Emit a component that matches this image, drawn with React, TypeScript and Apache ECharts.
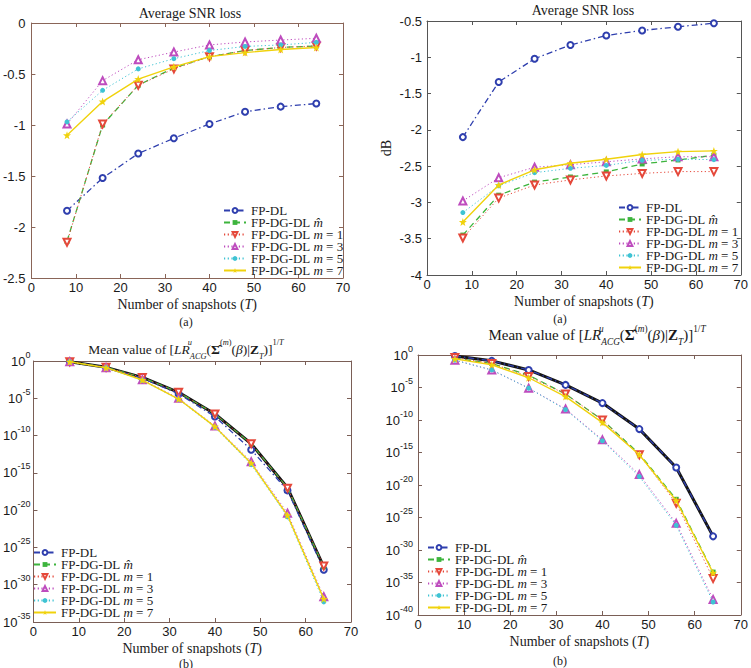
import React, { useEffect, useRef } from 'react';
import * as echarts from 'echarts';

// Number of snapshots T on every horizontal axis
const snapshots = [8, 16, 24, 32, 40, 48, 56, 64];

const seriesNames = [
  'FP-DL',
  'FP-DG-DL m̂',
  'FP-DG-DL m = 1',
  'FP-DG-DL m = 3',
  'FP-DG-DL m = 5',
  'FP-DG-DL m = 7',
];

// (a) left: average SNR loss
const snrLeftFpDl = [-1.84, -1.52, -1.28, -1.13, -0.99, -0.87, -0.82, -0.79];
const snrLeftHat = [-2.14, -1.0, -0.61, -0.44, -0.33, -0.27, -0.24, -0.225];
const snrLeftM1 = [-2.15, -0.99, -0.61, -0.45, -0.33, -0.27, -0.24, -0.225];
const snrLeftM3 = [-0.99, -0.565, -0.36, -0.285, -0.215, -0.186, -0.167, -0.15];
const snrLeftM5 = [-0.97, -0.66, -0.45, -0.35, -0.27, -0.23, -0.215, -0.19];
const snrLeftM7 = [-1.1, -0.77, -0.55, -0.43, -0.33, -0.29, -0.26, -0.24];

// (a) right: average SNR loss in dB
const snrRightFpDl = [-2.1, -1.34, -1.02, -0.83, -0.7, -0.63, -0.58, -0.53];
const snrRightHat = [-3.45, -2.9, -2.72, -2.65, -2.58, -2.47, -2.415, -2.35];
const snrRightM1 = [-3.49, -2.94, -2.76, -2.69, -2.635, -2.6, -2.575, -2.575];
const snrRightM3 = [-2.98, -2.66, -2.515, -2.48, -2.44, -2.4, -2.37, -2.37];
const snrRightM5 = [-3.14, -2.77, -2.59, -2.53, -2.49, -2.42, -2.405, -2.41];
const snrRightM7 = [-3.27, -2.76, -2.55, -2.46, -2.405, -2.34, -2.3, -2.29];

// (b) left: log10 of the mean likelihood-ratio value
const lrLeftFpDl = [-0.1, -0.85, -2.3, -4.4, -7.45, -11.9, -17.35, -28.0];
const lrLeftHat = [-0.1, -0.85, -2.2, -4.2, -7.1, -11.1, -17.0, -27.6];
const lrLeftM1 = [-0.1, -0.85, -2.2, -4.2, -7.1, -11.1, -17.05, -27.5];
const lrLeftM3 = [-0.1, -0.9, -2.5, -5.0, -8.7, -13.5, -20.4, -31.6];
const lrLeftM5 = [-0.1, -0.9, -2.6, -5.15, -8.9, -13.9, -20.9, -32.3];
const lrLeftM7 = [-0.1, -0.9, -2.55, -5.1, -8.8, -13.7, -20.7, -31.9];

// (b) right: log10 of the mean likelihood-ratio value
const lrRightFpDl = [-0.15, -0.9, -2.3, -4.6, -7.4, -11.4, -17.3, -27.9];
const lrRightHat = [-0.5, -1.3, -3.1, -6.0, -10.0, -15.2, -22.2, -33.4];
const lrRightM1 = [-0.4, -1.3, -3.3, -6.0, -10.0, -15.35, -22.8, -34.4];
const lrRightM3 = [-0.8, -2.3, -5.1, -8.3, -13.05, -18.4, -25.9, -37.6];
const lrRightM5 = [-0.8, -2.3, -5.1, -8.4, -13.2, -18.7, -26.2, -38.0];
const lrRightM7 = [-0.6, -1.5, -3.5, -6.4, -10.4, -15.35, -22.4, -33.5];

const SERIF = '"Liberation Serif", "Times New Roman", serif';
const SANS = '"Liberation Sans", Arial, sans-serif';
const INK = '#1a1a1a';

const STAR =
  'path://M0,-10 L2.35,-3.24 L9.51,-3.09 L3.8,1.24 L5.88,8.09 L0,4 L-5.88,8.09 L-3.8,1.24 L-9.51,-3.09 L-2.35,-3.24 Z';

const seriesLooks = [
  { color: '#2f3fae', type: [6, 3, 1.5, 3], width: 1.3, symbol: 'emptyCircle', size: 6, rotate: 0 },
  { color: '#3db43d', type: [6, 4], width: 1.3, symbol: 'rect', size: 5, rotate: 0 },
  { color: '#e5483a', type: [1.2, 2.5], width: 1, symbol: 'emptyTriangle', size: 7, rotate: 180 },
  { color: '#be4cbe', type: [1.2, 2.5], width: 1, symbol: 'emptyTriangle', size: 7, rotate: 0 },
  { color: '#3fc3d3', type: [1.2, 2.5], width: 1, symbol: 'circle', size: 5, rotate: 0 },
  { color: '#f0d20c', type: 'solid', width: 1.4, symbol: STAR, size: 8, rotate: 0 },
];

const grids = [
  { left: 31, top: 23, width: 312, height: 255 },
  { left: 427, top: 21, width: 317, height: 254 },
  { left: 21, top: 361, width: 330, height: 261 },
  { left: 418, top: 355, width: 328, height: 260 },
];

const yConfigs = [
  { min: -2.5, max: 0, interval: 0.5, log: false, margin: 6, name: '' },
  { min: -4, max: -0.5, interval: 0.5, log: false, margin: 5, name: 'dB' },
  { min: -35, max: 0, interval: 5, log: true, margin: 3, name: '' },
  { min: -40, max: 0, interval: 5, log: true, margin: 5, name: '' },
];

const frameColors = ['#8a6558', '#555555', '#7a5e56', '#7a5e56'];

const legendSpots = [
  { left: 223, top: 204 },
  { left: 618, top: 201 },
  { left: 33, top: 546 },
  { left: 427, top: 541 },
];

const panelData = [
  [snrLeftFpDl, snrLeftHat, snrLeftM1, snrLeftM3, snrLeftM5, snrLeftM7],
  [snrRightFpDl, snrRightHat, snrRightM1, snrRightM3, snrRightM5, snrRightM7],
  [lrLeftFpDl, lrLeftHat, lrLeftM1, lrLeftM3, lrLeftM5, lrLeftM7],
  [lrRightFpDl, lrRightHat, lrRightM1, lrRightM3, lrRightM5, lrRightM7],
];

// dark envelope drawn under the upper group of the log panels
const envelopeData: (number[] | null)[] = [null, null, lrLeftHat, lrRightFpDl];

const legendLabels: Record<string, string> = {
  'FP-DL': 'FP-DL',
  'FP-DG-DL m̂': 'FP-DG-DL {i|m̂}',
  'FP-DG-DL m = 1': 'FP-DG-DL {i|m} = 1',
  'FP-DG-DL m = 3': 'FP-DG-DL {i|m} = 3',
  'FP-DG-DL m = 5': 'FP-DG-DL {i|m} = 5',
  'FP-DG-DL m = 7': 'FP-DG-DL {i|m} = 7',
};

function pairs(values: number[]) {
  return snapshots.map((t, i) => [t, values[i]]);
}

function buildOption() {
  const xAxis: any[] = [];
  const yAxis: any[] = [];
  const series: any[] = [];

  grids.forEach((_, gi) => {
    const frame = frameColors[gi];
    const yc = yConfigs[gi];
    const tick = { show: true, inside: true, length: 4, lineStyle: { color: frame, width: 1 } };
    xAxis.push({
      type: 'value',
      gridIndex: gi,
      min: 0,
      max: 70,
      interval: 10,
      position: 'bottom',
      axisLine: { show: true, onZero: false, lineStyle: { color: frame, width: 1 } },
      axisTick: tick,
      splitLine: { show: false },
      axisLabel: { color: INK, fontFamily: SANS, fontSize: 13, margin: 3 },
      name: 'Number of snapshots ({i|T})',
      nameLocation: 'middle',
      nameGap: 19,
      nameTextStyle: {
        color: INK,
        fontFamily: SERIF,
        fontSize: 14,
        rich: { i: { fontStyle: 'italic', fontFamily: SERIF, fontSize: 14, color: INK } },
      },
    });
    xAxis.push({
      type: 'value',
      gridIndex: gi,
      min: 0,
      max: 70,
      interval: 10,
      position: 'top',
      axisLine: { show: true, onZero: false, lineStyle: { color: frame, width: 1 } },
      axisTick: tick,
      splitLine: { show: false },
      axisLabel: { show: false },
    });
    yAxis.push({
      type: 'value',
      gridIndex: gi,
      min: yc.min,
      max: yc.max,
      interval: yc.interval,
      position: 'left',
      axisLine: { show: true, onZero: false, lineStyle: { color: frame, width: 1 } },
      axisTick: tick,
      splitLine: { show: false },
      axisLabel: yc.log
        ? {
            margin: yc.margin,
            formatter: (v: number) => `{b|10}{s|${Math.round(v)}}`,
            rich: {
              b: { fontFamily: SANS, fontSize: 13, color: INK, lineHeight: 26 },
              s: { fontFamily: SANS, fontSize: 9, color: INK, lineHeight: 10, verticalAlign: 'top', padding: [2, 0, 0, 0] },
            },
          }
        : {
            margin: yc.margin,
            color: INK,
            fontFamily: SANS,
            fontSize: 13,
            formatter: (v: number) => String(Math.round(v * 10) / 10),
          },
      name: yc.name,
      nameLocation: 'middle',
      nameGap: 34,
      nameTextStyle: { color: INK, fontFamily: SERIF, fontSize: 14 },
    });
    yAxis.push({
      type: 'value',
      gridIndex: gi,
      min: yc.min,
      max: yc.max,
      interval: yc.interval,
      position: 'right',
      axisLine: { show: true, onZero: false, lineStyle: { color: frame, width: 1 } },
      axisTick: tick,
      splitLine: { show: false },
      axisLabel: { show: false },
    });

    const env = envelopeData[gi];
    if (env) {
      series.push({
        type: 'line',
        name: 'envelope',
        xAxisIndex: gi * 2,
        yAxisIndex: gi * 2,
        data: pairs(env),
        symbol: 'none',
        lineStyle: { color: '#151515', width: 3 },
        z: 1,
      });
    }

    panelData[gi].forEach((values, si) => {
      const look = seriesLooks[si];
      series.push({
        type: 'line',
        name: seriesNames[si],
        xAxisIndex: gi * 2,
        yAxisIndex: gi * 2,
        data: pairs(values),
        symbol: look.symbol,
        symbolSize: look.size,
        symbolRotate: look.rotate,
        color: look.color,
        itemStyle: { color: look.color, borderWidth: 1.1 },
        lineStyle: { color: look.color, width: look.width, type: look.type },
        z: 2 + si,
      });
    });
  });

  const legend = legendSpots.map((spot) => ({
    data: seriesNames,
    orient: 'vertical',
    left: spot.left,
    top: spot.top,
    itemWidth: 22,
    itemHeight: 6,
    itemGap: -1,
    padding: 0,
    selectedMode: false,
    formatter: (name: string) => legendLabels[name] ?? name,
    textStyle: {
      color: INK,
      fontFamily: SERIF,
      fontSize: 13,
      lineHeight: 11,
      rich: { i: { fontStyle: 'italic', fontFamily: SERIF, fontSize: 13, lineHeight: 11, color: INK } },
    },
  }));

  const titleRich = (size: number) => ({
    i: { fontStyle: 'italic', fontFamily: SERIF, fontSize: size, color: INK, lineHeight: 22 },
    b: { fontWeight: 'bold', fontFamily: SERIF, fontSize: size, color: INK, lineHeight: 22 },
    u: { fontStyle: 'italic', fontFamily: SERIF, fontSize: size * 0.62, color: INK, lineHeight: 8, verticalAlign: 'top', width: 0 },
    sub: { fontStyle: 'italic', fontFamily: SERIF, fontSize: size * 0.62, color: INK, lineHeight: 9, verticalAlign: 'bottom' },
    sup: { fontFamily: SERIF, fontSize: size * 0.62, color: INK, lineHeight: 9, verticalAlign: 'top' },
    supi: { fontStyle: 'italic', fontFamily: SERIF, fontSize: size * 0.62, color: INK, lineHeight: 9, verticalAlign: 'top' },
  });
  const lrTitle =
    'Mean value of [{i|LR}{u|u}{sub|ACG}({b|Σ̂}{sup|(}{supi|m}{sup|)}({i|β})|{b|Z}{sub|T})]{sup|1/}{supi|T}';

  const textEl = (x: number, y: number, text: string, size: number, rich?: any) => ({
    type: 'text',
    x,
    y,
    silent: true,
    style: {
      text,
      fill: INK,
      fontFamily: SERIF,
      fontSize: size,
      align: 'center',
      verticalAlign: 'middle',
      lineHeight: 22,
      rich,
    },
  });

  const graphic = [
    textEl(190, 13, 'Average SNR loss', 14),
    textEl(583, 10, 'Average SNR loss', 14),
    textEl(186, 349, lrTitle, 13.5, titleRich(13.5)),
    textEl(597, 335, lrTitle, 15, titleRich(15)),
    textEl(186, 322, '(a)', 12),
    textEl(560, 319, '(a)', 12),
    textEl(186, 664, '(b)', 12),
    textEl(560, 661, '(b)', 12),
  ];

  return {
    animation: false,
    backgroundColor: '#ffffff',
    grid: grids.map((g) => ({ ...g, containLabel: false })),
    xAxis,
    yAxis,
    legend,
    series,
    graphic,
  };
}

export default function App() {
  const ref = useRef<HTMLDivElement>(null);

  useEffect(() => {
    if (!ref.current) return;
    const chart = echarts.init(ref.current, undefined, { renderer: 'svg' });
    chart.setOption(buildOption() as any);
    return () => chart.dispose();
  }, []);

  return (
    <div
      ref={ref}
      style={{ position: 'absolute', left: 0, top: 0, width: 751, height: 668, background: '#fff' }}
    />
  );
}
